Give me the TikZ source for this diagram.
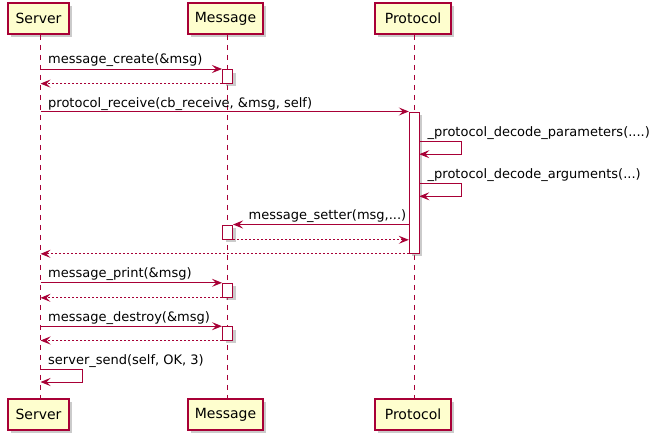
\documentclass[tikz,border=0pt]{standalone}
\usepackage{fontspec}
\setmainfont{DejaVu Sans}
\usetikzlibrary{arrows.meta,shadows}
\definecolor{pu}{HTML}{A80036}
\definecolor{pufill}{HTML}{FEFECE}
\tikzset{
  shad/.style={drop shadow={shadow xshift=3pt, shadow yshift=-3pt, fill=black!45, opacity=0.45}},
  part/.style={draw=pu, line width=1.5pt, fill=pufill, minimum height=31pt, inner sep=0pt,
    font=\fontsize{14}{16}\selectfont, shad},
  life/.style={draw=pu, line width=1pt, dash pattern=on 5pt off 5pt},
  act/.style={draw=pu, line width=1pt, fill=white, minimum width=10pt, inner sep=0pt, shad},
  msg/.style={draw=pu, line width=1pt, -{Stealth[length=10pt,width=8pt,inset=4pt]}},
  ret/.style={msg, dash pattern=on 2pt off 2pt},
  lbl/.style={font=\fontsize{13}{15}\selectfont, inner sep=0pt, anchor=base west},
}
\begin{document}
\begin{tikzpicture}[x=1pt,y=-1pt]
\useasboundingbox[fill=white] (0,0) rectangle (658,439);
% participants
\node[part, minimum width=61pt] (sT) at (38.5,18.5) {Server};
\node[part, minimum width=75pt] (mT) at (225.5,18.5) {Message};
\node[part, minimum width=76pt] (pT) at (413,18.5) {Protocol};
\node[part, minimum width=61pt] (sB) at (38.5,414.5) {Server};
\node[part, minimum width=75pt] (mB) at (225.5,414.5) {Message};
\node[part, minimum width=76pt] (pB) at (413,414.5) {Protocol};
% lifelines
\coordinate (S) at (40.5,0);
\coordinate (M) at (227.5,0);
\coordinate (P) at (414.3,0);
\draw[life] (S |- sT.south) -- (S |- sB.north);
\draw[life] (M |- mT.south) -- (M |- mB.north);
\draw[life] (P |- pT.south) -- (P |- pB.north);
% activations
\node[act, minimum height=13.6pt] (a1) at (227.5,76.3) {};
\node[act, minimum height=141.3pt] (a2) at (414.3,182.65) {};
\node[act, minimum height=14.3pt] (a3) at (227.5,232.15) {};
\node[act, minimum height=14pt] (a4) at (227.5,290.3) {};
\node[act, minimum height=13.3pt] (a5) at (227.5,333.35) {};
% 1 message_create
\node[lbl] (l1) at (48,63.8) {message\_create(\&msg)};
\draw[msg] (S |- a1.north west) -- (a1.north west);
\draw[ret] (a1.south west) -- (S |- a1.south west);
% 2 protocol_receive
\node[lbl] (l2) at (48,107) {protocol\_receive(cb\_receive, \&msg, self)};
\draw[msg] (S |- a2.north west) -- (a2.north west);
% 3 self calls
\node[lbl] (l3) at (427.5,136.5) {\_protocol\_decode\_parameters(....)};
\coordinate (c3) at (419.3,141.7);
\draw[msg] (c3) -- ++(42,0) -- ++(0,12.5) -- ++(-42,0);
\node[lbl] (l4) at (427.5,178.5) {\_protocol\_decode\_arguments(...)};
\coordinate (c4) at (419.3,183.7);
\draw[msg] (c4) -- ++(42,0) -- ++(0,12.6) -- ++(-42,0);
% 4 message_setter
\node[lbl, anchor=base east] (l5) at (406.5,219.5) {message\_setter(msg,...)};
\draw[msg] (a2.west |- a3.north east) -- (a3.north east);
\draw[ret] (a3.south east) -- (a2.west |- a3.south east);
\draw[ret] (a2.south west) -- (S |- a2.south west);
% 5 message_print
\node[lbl] (l6) at (48,277.8) {message\_print(\&msg)};
\draw[msg] (S |- a4.north west) -- (a4.north west);
\draw[ret] (a4.south west) -- (S |- a4.south west);
% 6 message_destroy
\node[lbl] (l7) at (48,321.2) {message\_destroy(\&msg)};
\draw[msg] (S |- a5.north west) -- (a5.north west);
\draw[ret] (a5.south west) -- (S |- a5.south west);
% 7 server_send
\node[lbl] (l8) at (48,364) {server\_send(self, OK, 3)};
\coordinate (c8) at (40.5,369.3);
\draw[msg] (c8) -- ++(41.5,0) -- ++(0,12.7) -- ++(-41.5,0);
\end{tikzpicture}
\end{document}
